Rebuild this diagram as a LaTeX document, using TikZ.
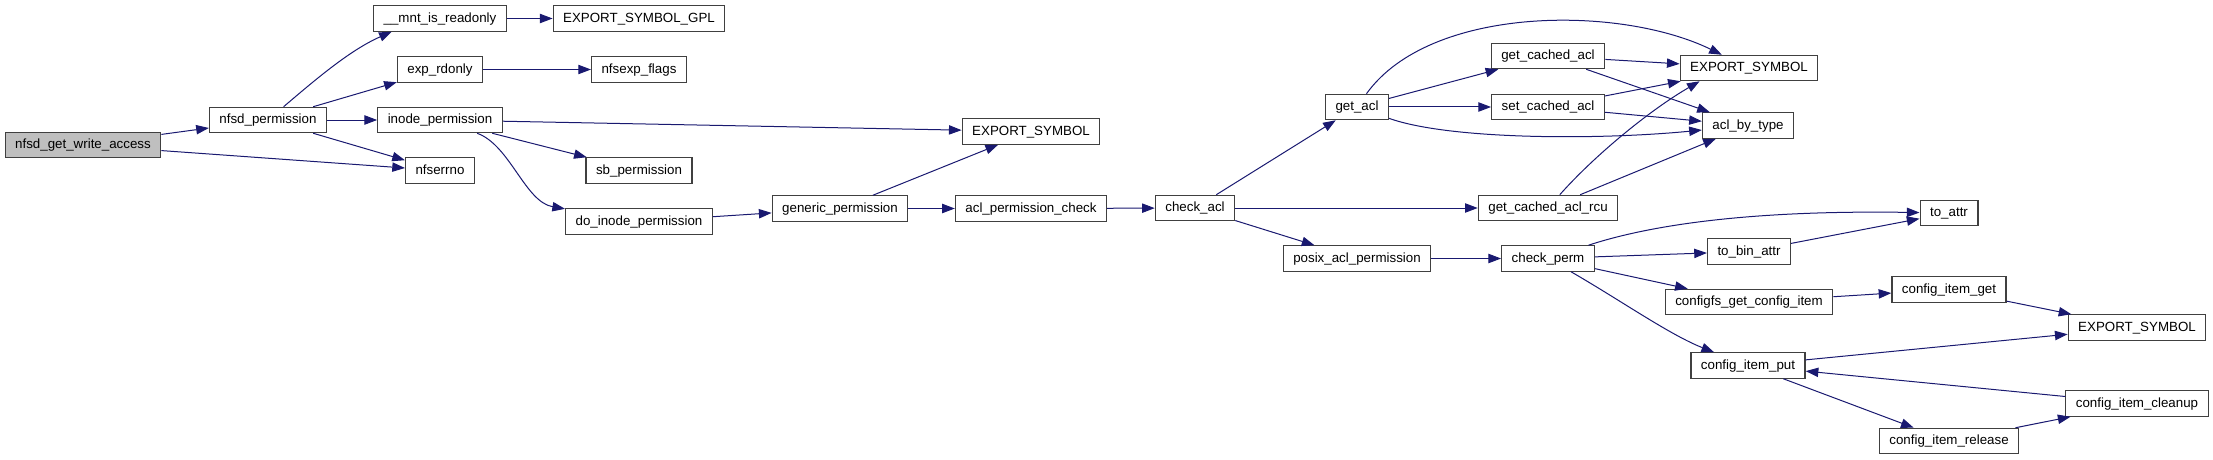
\documentclass[tikz,border=0pt]{standalone}
\usepackage{fontspec}
\setmainfont{Liberation Sans}
\usetikzlibrary{arrows.meta}
\definecolor{calledge}{HTML}{191970}
\definecolor{rootfill}{HTML}{BFBFBF}
\definecolor{boxline}{HTML}{404040}

\begin{document}
\begin{tikzpicture}[x=0.75pt, y=-0.75pt,
    fn/.style={rectangle, draw=boxline, line width=0.9pt, fill=white,
        font=\fontsize{10}{12}\selectfont, inner xsep=7.5pt, inner ysep=0pt,
        minimum height=19pt, text height=7.5pt, text depth=2pt},
    root/.style={fn, fill=rootfill},
    call/.style={calledge, line width=0.75pt, -{Triangle[length=9.5pt, width=7pt]}},
]
\useasboundingbox (0,0) rectangle (2213,460);

% ===== nfsd side =====
\node[root] (wa)     at (83,145)    {nfsd\_get\_write\_access};
\node[fn]   (perm)   at (268,120)   {nfsd\_permission};
\node[fn]   (mnt)    at (440,18.5)  {\_\_mnt\_is\_readonly};
\node[fn]   (exp)    at (440,69.5)  {exp\_rdonly};
\node[fn]   (inode)  at (440,120)   {inode\_permission};
\node[fn]   (nerr)   at (440,170.5) {nfserrno};
\node[fn]   (gpl)    at (639,18.5)  {EXPORT\_SYMBOL\_GPL};
\node[fn]   (flags)  at (639,69.5)  {nfsexp\_flags};
\node[fn]   (sb)     at (639,170.5) {sb\_permission};
\node[fn]   (doip)   at (639,221.5) {do\_inode\_permission};
\node[fn]   (gen)    at (840,208.5) {generic\_permission};
\node[fn]   (esa)    at (1031,131.5) {EXPORT\_SYMBOL};
\node[fn]   (apc)    at (1031,208.5) {acl\_permission\_check};

% ===== acl side =====
\node[fn]   (chk)    at (1195,208)  {check\_acl};
\node[fn]   (getacl) at (1357,107)  {get\_acl};
\node[fn]   (posix)  at (1357,258.5) {posix\_acl\_permission};
\node[fn]   (gca)    at (1548,56)   {get\_cached\_acl};
\node[fn]   (sca)    at (1548,107)  {set\_cached\_acl};
\node[fn]   (rcu)    at (1548,208)  {get\_cached\_acl\_rcu};
\node[fn]   (cperm)  at (1548,258.5) {check\_perm};
\node[fn]   (esb)    at (1749,68)   {EXPORT\_SYMBOL};
\node[fn]   (abt)    at (1748,125.5) {acl\_by\_type};

% ===== configfs side =====
\node[fn]   (tba)    at (1749,251.5) {to\_bin\_attr};
\node[fn]   (cfg)    at (1749,302)  {configfs\_get\_config\_item};
\node[fn]   (put)    at (1748,365.5) {config\_item\_put};
\node[fn]   (toa)    at (1949,213)  {to\_attr};
\node[fn]   (cget)   at (1949,289.5) {config\_item\_get};
\node[fn]   (rel)    at (1949,441)  {config\_item\_release};
\node[fn]   (esc)    at (2137,327.5) {EXPORT\_SYMBOL};
\node[fn]   (cln)    at (2137,403.5) {config\_item\_cleanup};

% ===== calls =====
\draw[call] (wa) -- (perm);
\draw[call] (wa) -- (nerr);
\draw[call] (perm) .. controls (315,80) and (350,50) .. ([xshift=14pt]mnt.south west);
\draw[call] (perm) -- (exp);
\draw[call] (perm) -- (inode);
\draw[call] (perm) -- (nerr);
\draw[call] (mnt) -- (gpl);
\draw[call] (exp) -- (flags);
\draw[call] (inode) -- (esa);
\draw[call] (inode) -- (sb);
\draw[call] (inode) .. controls (510,145) and (525,202) .. (doip);
\draw[call] (doip) -- (gen);
\draw[call] (gen) -- (esa);
\draw[call] (gen) -- (apc);
\draw[call] (apc) -- (chk);

\draw[call] (chk) -- (getacl);
\draw[call] (chk) -- (rcu);
\draw[call] (chk) -- (posix);
\draw[call] (getacl) -- (gca);
\draw[call] (getacl) -- (sca);
\draw[call] (getacl) .. controls (1430,5) and (1620,5) .. (esb);
\draw[call] (getacl) .. controls (1450,140) and (1600,140) .. (abt);
\draw[call] (gca) -- (esb);
\draw[call] (gca) -- (abt);
\draw[call] (sca) -- (esb);
\draw[call] (sca) -- (abt);
\draw[call] (rcu) .. controls (1595,155) and (1650,110) .. ([xshift=15pt]esb.south west);
\draw[call] (rcu) -- (abt);
\draw[call] (posix) -- (cperm);

\draw[call] (cperm) .. controls (1650,225) and (1750,210) .. (toa);
\draw[call] (cperm) -- (tba);
\draw[call] (cperm) -- (cfg);
\draw[call] (cperm) .. controls (1620,300) and (1670,335) .. (put);
\draw[call] (tba) -- (toa);
\draw[call] (cfg) -- (cget);
\draw[call] (cget) -- (esc);
\draw[call] (put) -- (esc);
\draw[call] (put) -- (rel);
\draw[call] (rel) -- (cln);
\draw[call] (cln) -- (put);

\end{tikzpicture}
\end{document}
